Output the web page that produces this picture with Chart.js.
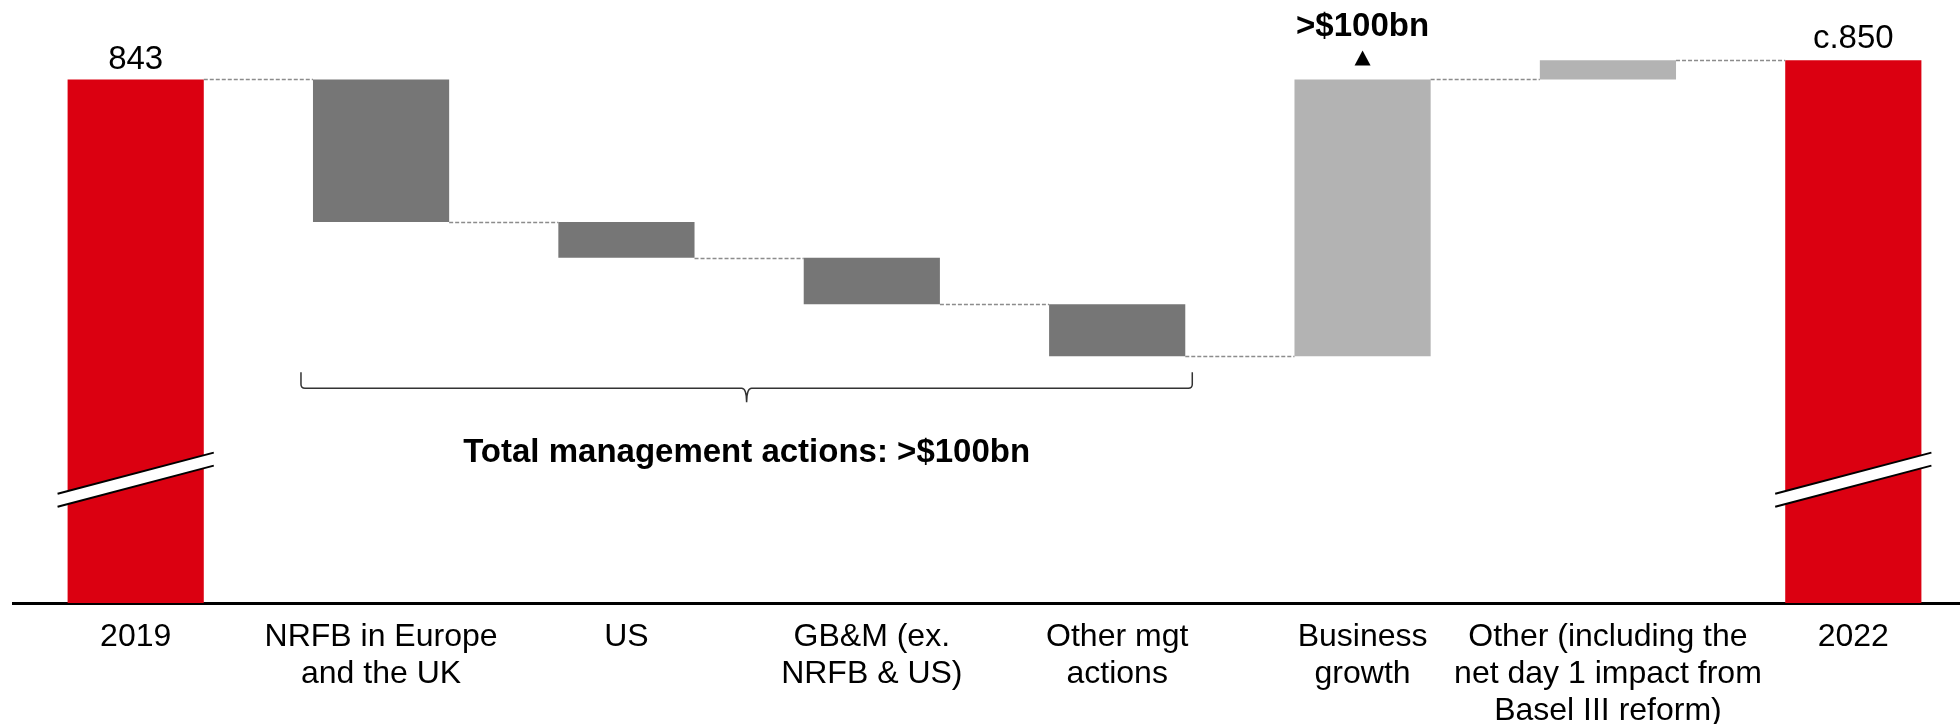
<!DOCTYPE html>
<html>
<head>
<meta charset="utf-8">
<script src="https://cdn.jsdelivr.net/npm/chart.js@4"></script>
<style>
  html, body { margin: 0; padding: 0; background: #fff; overflow: hidden; }
  #wrap { width: 1976px; height: 724px; }
</style>
</head>
<body>
<div id="wrap"><canvas id="c" width="1976" height="724"></canvas></div>
<script>
// RWA walk, $bn

const categories = [
  ['2019'],
  ['NRFB in Europe', 'and the UK'],
  ['US'],
  ['GB&M (ex.', 'NRFB & US)'],
  ['Other mgt', 'actions'],
  ['Business', 'growth'],
  ['Other (including the', 'net day 1 impact from', 'Basel III reform)'],
  ['2022']
];

const startValue = 843;
const changes = [-52, -13, -17, -19, 101, 7];   // walk steps between the two totals
const totalLabels = ['843', 'c.850'];
const growthLabel = '>$100bn';
const bracketLabel = 'Total management actions: >$100bn';

const barColors = ['#DB0011', '#767676', '#767676', '#767676', '#767676', '#B3B3B3', '#B3B3B3', '#DB0011'];

// the totals are cut, the axis does not start at zero
const Y_MIN = 652;
const Y_MAX = 872;
const BREAK_AT = 697;

// floating bars: [from, to]
const bars = [[Y_MIN, startValue]];
const levels = [startValue];
let running = startValue;
changes.forEach(d => {
  bars.push([running, running + d]);
  running += d;
  levels.push(running);
});
bars.push([Y_MIN, running]);

const FONT = '"Liberation Sans", Arial, sans-serif';

const walkDecor = {
  id: 'walkDecor',
  afterDatasetsDraw(chart) {
    const ctx = chart.ctx;
    const y = chart.scales.y;
    const els = chart.getDatasetMeta(0).data;
    const top = el => Math.min(el.y, el.base);
    const bottom = el => Math.max(el.y, el.base);

    ctx.save();

    // dashed connectors
    ctx.strokeStyle = '#8c8c8c';
    ctx.lineWidth = 1.5;
    ctx.setLineDash([4, 2]);
    for (let i = 0; i < els.length - 1; i++) {
      const a = els[i], b = els[i + 1];
      const ly = Math.round(y.getPixelForValue(levels[i])) + 0.5;
      ctx.beginPath();
      ctx.moveTo(a.x + a.width / 2, ly);
      ctx.lineTo(b.x - b.width / 2, ly);
      ctx.stroke();
    }
    ctx.setLineDash([]);

    // axis break marks on both totals
    const by = y.getPixelForValue(BREAK_AT);
    [els[0], els[els.length - 1]].forEach(el => {
      const x0 = el.x - el.width / 2 - 10;
      const x1 = el.x + el.width / 2 + 10;
      const slope = 0.263;
      const yAt = (x, off) => by - (x - el.x) * slope + off;
      ctx.fillStyle = '#fff';
      ctx.beginPath();
      ctx.moveTo(x0, yAt(x0, -6.5));
      ctx.lineTo(x1, yAt(x1, -6.5));
      ctx.lineTo(x1, yAt(x1, 6.5));
      ctx.lineTo(x0, yAt(x0, 6.5));
      ctx.closePath();
      ctx.fill();
      ctx.strokeStyle = '#000';
      ctx.lineWidth = 2;
      [-6.5, 6.5].forEach(off => {
        ctx.beginPath();
        ctx.moveTo(x0, yAt(x0, off));
        ctx.lineTo(x1, yAt(x1, off));
        ctx.stroke();
      });
    });

    // total labels
    ctx.fillStyle = '#000';
    ctx.textAlign = 'center';
    ctx.textBaseline = 'alphabetic';
    ctx.font = '33px ' + FONT;
    const first = els[0], last = els[els.length - 1];
    ctx.fillText(totalLabels[0], first.x, top(first) - 10);
    ctx.fillText(totalLabels[1], last.x, top(last) - 12);

    // business growth callout
    const g = els[5];
    const gt = top(g);
    ctx.beginPath();
    ctx.moveTo(g.x - 8, gt - 14);
    ctx.lineTo(g.x + 8, gt - 14);
    ctx.lineTo(g.x, gt - 29);
    ctx.closePath();
    ctx.fill();
    ctx.font = 'bold 33px ' + FONT;
    ctx.fillText(growthLabel, g.x, gt - 43);

    // bracket under the management actions
    const l = els[1], r = els[4];
    const low = Math.max(...els.slice(1, 5).map(bottom));
    const bx0 = l.x - l.width / 2 - 12;
    const bx1 = r.x + r.width / 2 + 7;
    const mid = (bx0 + bx1) / 2;
    const yEnd = low + 16, yBar = low + 32, yTip = low + 46;
    ctx.strokeStyle = '#333';
    ctx.lineWidth = 1.5;
    ctx.beginPath();
    ctx.moveTo(bx0, yEnd);
    ctx.lineTo(bx0, yBar - 4);
    ctx.quadraticCurveTo(bx0, yBar, bx0 + 4, yBar);
    ctx.lineTo(mid - 5, yBar);
    ctx.quadraticCurveTo(mid, yBar, mid, yTip);
    ctx.quadraticCurveTo(mid, yBar, mid + 5, yBar);
    ctx.lineTo(bx1 - 4, yBar);
    ctx.quadraticCurveTo(bx1, yBar, bx1, yBar - 4);
    ctx.lineTo(bx1, yEnd);
    ctx.stroke();

    ctx.font = 'bold 33px ' + FONT;
    ctx.fillText(bracketLabel, mid, low + 106);

    ctx.restore();
  }
};

new Chart(document.getElementById('c'), {
  type: 'bar',
  data: {
    labels: categories,
    datasets: [{
      data: bars,
      backgroundColor: barColors,
      borderWidth: 0,
      categoryPercentage: 1,
      barPercentage: 0.555
    }]
  },
  options: {
    responsive: false,
    animation: false,
    layout: { padding: { left: 13, right: 0, top: 0, bottom: 0 } },
    plugins: {
      legend: { display: false },
      tooltip: { enabled: false }
    },
    scales: {
      x: {
        z: 1,
        grid: { display: false, drawTicks: false },
        border: { display: true, color: '#000', width: 3 },
        ticks: {
          color: '#000',
          padding: 16,
          autoSkip: false,
          maxRotation: 0,
          minRotation: 0,
          font: { family: FONT, size: 32, lineHeight: 1.15 }
        },
        afterFit(scale) { scale.height = 121; }
      },
      y: {
        display: false,
        min: Y_MIN,
        max: Y_MAX
      }
    }
  },
  plugins: [walkDecor]
});
</script>
</body>
</html>
